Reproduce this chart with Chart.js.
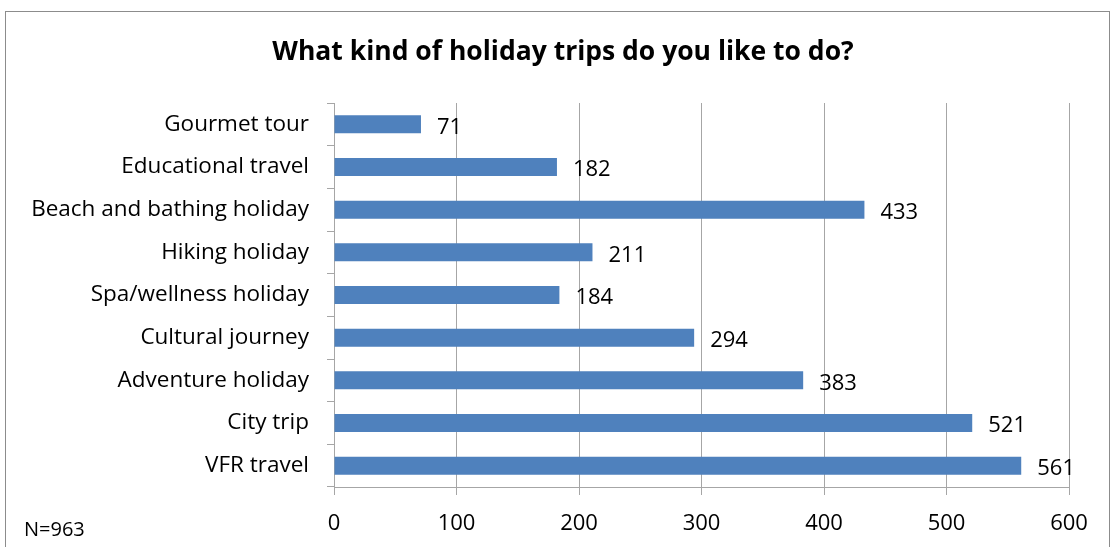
<!DOCTYPE html>
<html>
<head>
<meta charset="utf-8">
<script src="https://cdn.jsdelivr.net/npm/chart.js@4"></script>
<style>
  html, body { margin: 0; padding: 0; background: #fff; }
  #wrap { position: relative; width: 1113px; height: 547px; }
</style>
</head>
<body>
<div id="wrap"><canvas id="tripsChart" width="1113" height="547"></canvas></div>
<script>
const categories = ['Gourmet tour', 'Educational travel', 'Beach and bathing holiday', 'Hiking holiday',
  'Spa/wellness holiday', 'Cultural journey', 'Adventure holiday', 'City trip', 'VFR travel'];
const counts = [71, 182, 433, 211, 184, 294, 383, 521, 561];
const xTicks = [0, 100, 200, 300, 400, 500, 600];
const titleText = 'What kind of holiday trips do you like to do?';
const sampleNote = 'N=963';

const FONT = "'Open Sans', 'Noto Sans', sans-serif";
const AXIS_GRAY = '#a6a6a6';

// frame, title, footnote and the value next to each bar
const decorations = {
  id: 'decorations',
  beforeDraw(chart) {
    const ctx = chart.ctx;
    ctx.save();
    ctx.fillStyle = '#fff';
    ctx.fillRect(0, 0, chart.width, chart.height);
    ctx.strokeStyle = '#8c8c8c';
    ctx.lineWidth = 1;
    ctx.strokeRect(5.5, 11.5, 1104, 600);
    ctx.restore();
  },
  afterDatasetsDraw(chart) {
    const ctx = chart.ctx;
    ctx.save();
    ctx.fillStyle = '#000';
    ctx.font = `bold 26.5px ${FONT}`;
    ctx.textAlign = 'center';
    ctx.textBaseline = 'middle';
    ctx.fillText(titleText, 563, 52);

    ctx.font = `20px ${FONT}`;
    ctx.textAlign = 'left';
    ctx.fillText(sampleNote, 24, 530);

    ctx.font = `22px ${FONT}`;
    const meta = chart.getDatasetMeta(0);
    meta.data.forEach((bar, i) => {
      ctx.fillText(String(counts[i]), bar.x + 16, bar.y + 3);
    });
    ctx.restore();
  }
};

new Chart(document.getElementById('tripsChart'), {
  type: 'bar',
  data: {
    labels: categories,
    datasets: [{
      data: counts,
      backgroundColor: '#4f81bd',
      borderWidth: 0,
      barPercentage: 0.42,
      categoryPercentage: 1
    }]
  },
  options: {
    indexAxis: 'y',
    responsive: false,
    animation: false,
    layout: { padding: { top: 103, right: 44, left: 0, bottom: 0 } },
    plugins: { legend: { display: false }, tooltip: { enabled: false } },
    scales: {
      x: {
        min: 0,
        max: 600,
        afterBuildTicks(scale) { scale.ticks = xTicks.map(v => ({ value: v })); },
        afterFit(scale) { scale.height = 60; },
        grid: { color: AXIS_GRAY, lineWidth: 1, tickLength: 8 },
        border: { color: AXIS_GRAY },
        ticks: { color: '#000', font: { family: FONT, size: 22 }, padding: 16 }
      },
      y: {
        afterFit(scale) { scale.width = 334; },
        grid: { offset: true, drawOnChartArea: false, color: AXIS_GRAY, tickLength: 7 },
        border: { color: AXIS_GRAY },
        ticks: { color: '#000', font: { family: FONT, size: 22.5 }, padding: 18 }
      }
    }
  },
  plugins: [decorations]
});
</script>
</body>
</html>
